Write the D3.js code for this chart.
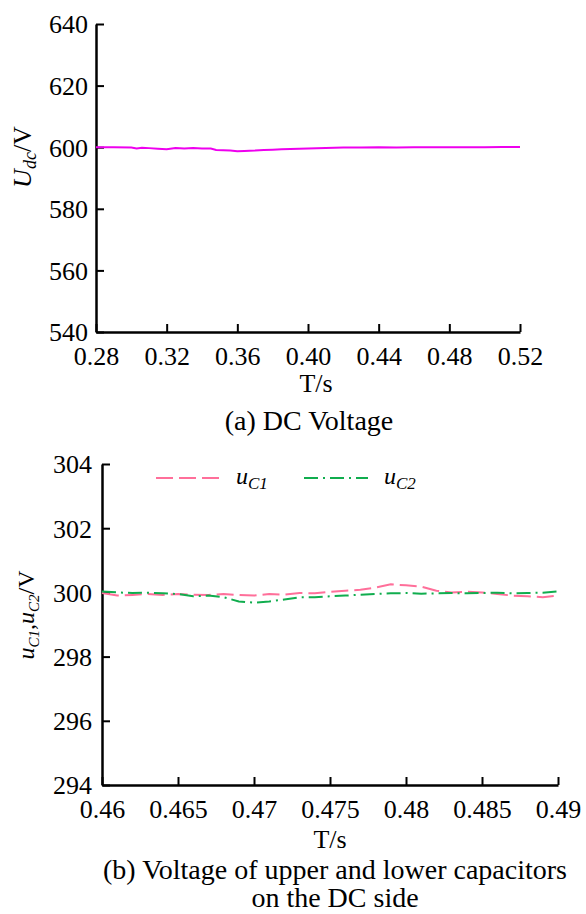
<!DOCTYPE html>
<html>
<head>
<meta charset="utf-8">
<script src="https://cdn.jsdelivr.net/npm/d3@7"></script>
<style>
  body { margin: 0; background: #fff; }
</style>
</head>
<body>
<div id="chart"></div>
<script>
var width = 586, height = 914;
var FONT = "'Liberation Serif', 'DejaVu Serif', serif";

// (a) DC voltage
var dcTime = [0.28, 0.29, 0.30, 0.303, 0.306, 0.31, 0.315, 0.32, 0.325, 0.33, 0.335, 0.34, 0.345,
              0.348, 0.352, 0.356, 0.36, 0.364, 0.37, 0.375, 0.38, 0.385, 0.39, 0.395, 0.40, 0.41,
              0.42, 0.43, 0.44, 0.45, 0.46, 0.47, 0.48, 0.49, 0.50, 0.51, 0.52];
var dcVolt = [600.0, 600.0, 599.9, 599.6, 599.8, 599.7, 599.5, 599.3, 599.7, 599.6, 599.7, 599.6, 599.6,
              599.1, 599.0, 598.9, 598.7, 598.8, 598.9, 599.1, 599.2, 599.3, 599.4, 599.5, 599.6, 599.7,
              599.9, 599.9, 600.0, 599.9, 600.0, 600.0, 600.0, 600.0, 600.0, 600.1, 600.1];
var dcXTicks = [0.28, 0.32, 0.36, 0.40, 0.44, 0.48, 0.52];
var dcYTicks = [540, 560, 580, 600, 620, 640];

// (b) capacitor voltages
var capTime = [0.460, 0.461, 0.462, 0.463, 0.464, 0.465, 0.466, 0.467, 0.468, 0.469, 0.470,
               0.471, 0.472, 0.473, 0.474, 0.475, 0.476, 0.477, 0.478, 0.479, 0.480,
               0.481, 0.482, 0.483, 0.484, 0.485, 0.486, 0.487, 0.488, 0.489, 0.490];
var uC1 = [299.98, 299.90, 299.92, 299.95, 299.92, 299.95, 299.93, 299.92, 299.95, 299.92, 299.90,
           299.95, 299.93, 299.98, 299.97, 300.02, 300.05, 300.08, 300.15, 300.25, 300.22,
           300.18, 300.05, 300.00, 300.02, 300.00, 299.95, 299.90, 299.88, 299.85, 299.90];
var uC2 = [300.03, 300.00, 299.98, 299.99, 299.97, 299.95, 299.88, 299.90, 299.85, 299.72, 299.68,
           299.72, 299.78, 299.85, 299.85, 299.88, 299.90, 299.93, 299.95, 299.97, 299.98,
           299.96, 299.97, 299.98, 299.97, 299.98, 299.99, 299.97, 299.98, 299.99, 300.03];
var capXTicks = [0.46, 0.465, 0.47, 0.475, 0.48, 0.485, 0.49];
var capYTicks = [294, 296, 298, 300, 302, 304];

var svg = d3.select('#chart').append('svg')
            .attr('width', width).attr('height', height)
            .attr('font-family', FONT);

function addText(x, y, str, size) {
  return svg.append('text').attr('x', x).attr('y', y).attr('text-anchor', 'middle')
    .attr('font-family', FONT).attr('font-size', size || 26).text(str);
}

function drawAxes(x, y, xTicks, yTicks, xFmt, yFmt, yGap) {
  var g = svg.append('g');
  var x0 = x.range()[0], y0 = y.range()[0];

  var xa = g.append('g').attr('transform', 'translate(0,' + y0 + ')')
    .call(d3.axisBottom(x).tickValues(xTicks).tickFormat(xFmt).tickSizeInner(-8).tickSizeOuter(0).tickPadding(20));
  var ya = g.append('g').attr('transform', 'translate(' + x0 + ',0)')
    .call(d3.axisLeft(y).tickValues(yTicks).tickFormat(yFmt).tickSizeInner(-8).tickSizeOuter(0).tickPadding(yGap));

  [xa, ya].forEach(function(a) {
    a.attr('font-family', FONT).attr('font-size', 26);
    a.select('.domain').attr('stroke', '#000').attr('stroke-width', 2.5);
    a.selectAll('.tick line').attr('stroke', '#000').attr('stroke-width', 2);
    a.selectAll('.tick text').attr('fill', '#000');
  });
  xa.selectAll('.tick text').attr('dy', '0.5em');
  ya.selectAll('.tick text').attr('dy', '0.34em');
}

// ---- chart (a)
var xA = d3.scaleLinear().domain([0.28, 0.52]).range([96, 520]);
var yA = d3.scaleLinear().domain([540, 640]).range([332, 24]);

drawAxes(xA, yA, dcXTicks, dcYTicks, d3.format('.2f'), d3.format('d'), 8);

svg.append('path')
  .datum(dcTime.map(function(t, i) { return [t, dcVolt[i]]; }))
  .attr('fill', 'none')
  .attr('stroke', '#ee00ee')
  .attr('stroke-width', 2)
  .attr('d', d3.line().x(function(d) { return xA(d[0]); }).y(function(d) { return yA(d[1]); }));

var labA = svg.append('text')
  .attr('transform', 'translate(31,157) rotate(-90)')
  .attr('text-anchor', 'middle')
  .attr('font-size', 26);
labA.append('tspan').attr('font-style', 'italic').text('U');
labA.append('tspan').attr('font-style', 'italic').attr('font-size', 18).attr('dy', 5).text('dc');
labA.append('tspan').attr('dy', -5).text('/V');

addText(316, 392, 'T/s');
addText(309, 430, '(a) DC Voltage', 28);

// ---- chart (b)
var xB = d3.scaleLinear().domain([0.46, 0.49]).range([102, 558]);
var yB = d3.scaleLinear().domain([294, 304]).range([785, 464]);

drawAxes(xB, yB, capXTicks, capYTicks, function(d) { return String(+d.toFixed(3)); }, d3.format('d'), 10);

var lineB = d3.line().x(function(d) { return xB(d[0]); }).y(function(d) { return yB(d[1]); });
var series = [
  { name: 'C1', values: uC1, color: '#ff6f9a', dash: '17,6' },
  { name: 'C2', values: uC2, color: '#10ad4e', dash: '14,5,2,5' }
];

svg.selectAll('.cap').data(series).enter().append('path')
  .attr('class', 'cap')
  .attr('fill', 'none')
  .attr('stroke', function(d) { return d.color; })
  .attr('stroke-width', 2)
  .attr('stroke-dasharray', function(d) { return d.dash; })
  .attr('d', function(d) {
    return lineB(capTime.map(function(t, i) { return [t, d.values[i]]; }));
  });

// legend
var legX = [156, 304];
series.forEach(function(s, i) {
  svg.append('line')
    .attr('x1', legX[i]).attr('x2', legX[i] + 64)
    .attr('y1', 478).attr('y2', 478)
    .attr('stroke', s.color).attr('stroke-width', 2)
    .attr('stroke-dasharray', s.dash);
  var t = svg.append('text').attr('x', legX[i] + 80).attr('y', 484).attr('font-size', 24);
  t.append('tspan').attr('font-style', 'italic').text('u');
  t.append('tspan').attr('font-style', 'italic').attr('font-size', 17).attr('dy', 5).text(s.name);
});

var labB = svg.append('text')
  .attr('transform', 'translate(34,615) rotate(-90)')
  .attr('text-anchor', 'middle')
  .attr('font-size', 24);
labB.append('tspan').attr('font-style', 'italic').text('u');
labB.append('tspan').attr('font-style', 'italic').attr('font-size', 15).attr('dy', 5).text('C1');
labB.append('tspan').attr('dy', -5).text(',');
labB.append('tspan').attr('font-style', 'italic').text('u');
labB.append('tspan').attr('font-style', 'italic').attr('font-size', 15).attr('dy', 5).text('C2');
labB.append('tspan').attr('dy', -5).text('/V');

addText(330, 848, 'T/s');
addText(335, 879, '(b) Voltage of upper and lower capacitors', 28);
addText(335, 907, 'on the DC side', 28);
</script>
</body>
</html>
